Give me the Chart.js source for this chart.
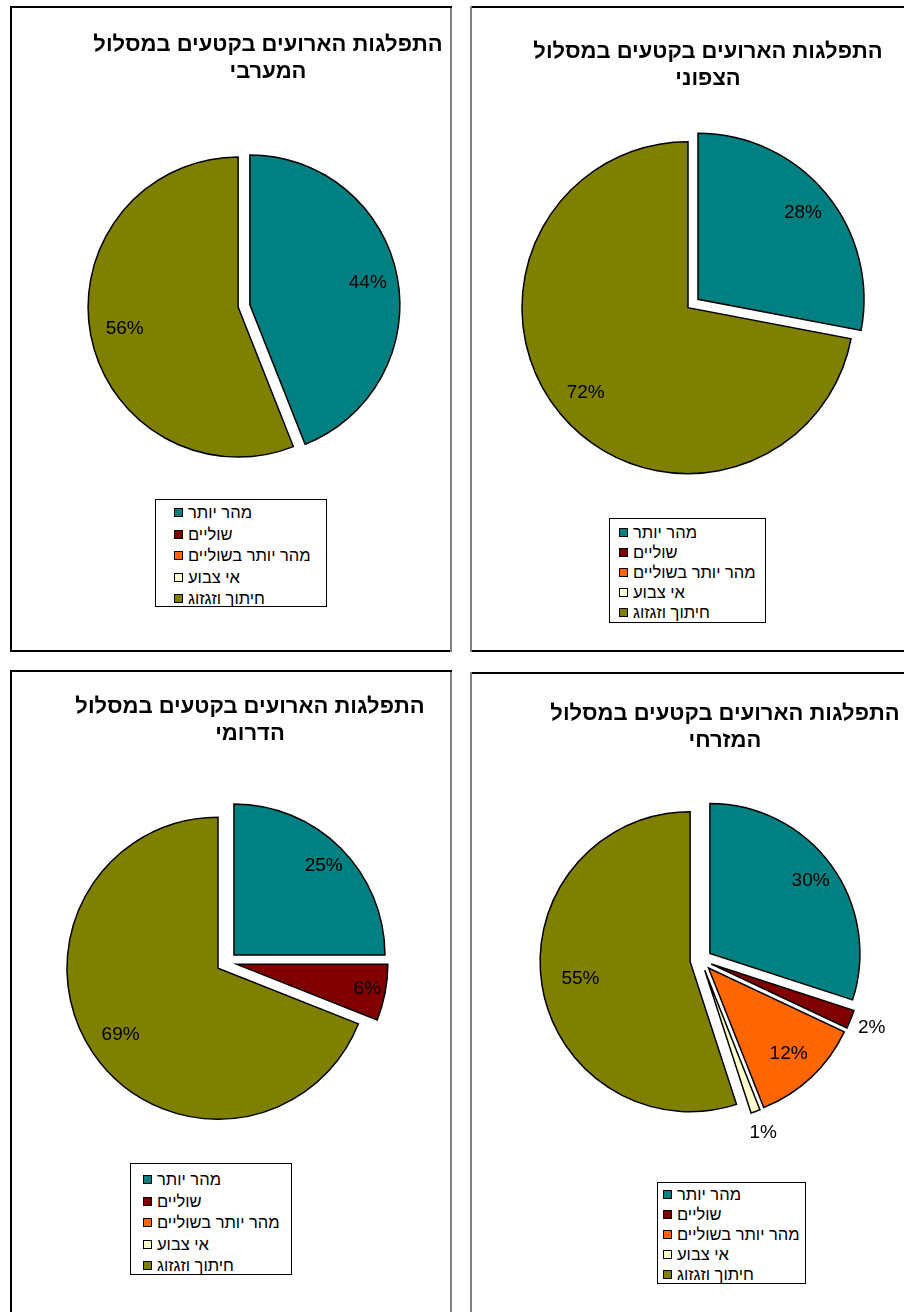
<!DOCTYPE html>
<html lang="he">
<head>
<meta charset="utf-8"/>
<title>התפלגות הארועים בקטעים</title>
<script src="https://cdn.jsdelivr.net/npm/chart.js"></script>
<style>
  body {
    margin: 0;
    width: 904px;
    height: 1312px;
    overflow: hidden;
    position: relative;
    background: #fff;
    font-family: "Liberation Sans", Arial, sans-serif;
    color: #000;
  }
  .panel {
    position: absolute;
  }
  .panel canvas {
    position: absolute;
    left: 0;
    top: 0;
  }
  .left-col {
    box-shadow: inset 2px 0 0 #000, inset 0 2px 0 #000, inset -2px 0 0 #808080, inset 0 -2px 0 #000;
  }
  .right-col {
    box-shadow: inset 2px 0 0 #808080, inset 0 2px 0 #000, inset 0 -2px 0 #000;
  }
  .title {
    position: absolute;
    width: 440px;
    margin-left: -220px;
    text-align: center;
    direction: rtl;
    font-weight: bold;
    font-size: 22px;
    line-height: 27px;
    white-space: nowrap;
  }
  .legend {
    position: absolute;
    box-sizing: border-box;
    border: 1px solid #000;
    background: #fff;
    font-size: 16.5px;
  }
  .legend .row {
    display: flex;
    align-items: center;
    white-space: nowrap;
  }
  .legend .sw {
    width: 9px;
    height: 9px;
    box-sizing: border-box;
    border: 1px solid #000;
    margin-right: 5px;
    flex: none;
  }
</style>
</head>
<body>

<div class="panel left-col" id="west"></div>
<div class="panel right-col" id="north"></div>
<div class="panel left-col" id="south"></div>
<div class="panel right-col" id="east"></div>

<script>
  // סוגי הארועים (אותו סדר בכל ארבעת המסלולים)
  const categories = ['מהר יותר', 'שוליים', 'מהר יותר בשוליים', 'אי צבוע', 'חיתוך וזגזוג'];
  const sliceColors = ['#008080', '#800000', '#FF6600', '#FFFFCC', '#808000'];

  // אחוזים לכל מסלול
  const westValues  = [44, 0, 0, 0, 56];
  const northValues = [28, 0, 0, 0, 72];
  const southValues = [25, 6, 0, 0, 69];
  const eastValues  = [30, 2, 12, 1, 55];

  const titleLine = 'התפלגות הארועים בקטעים במסלול';
  const routeNames = ['המערבי', 'הצפוני', 'הדרומי', 'המזרחי'];

  // פריסת כל לוח: מיקום, מרכז העוגה, רדיוס, הפרדת פרוסות, תווית ומקרא
  const panels = [
    { id: 'west',  values: westValues,  box: [10, 6, 442, 646],
      center: [234, 300], radius: 150, explode: 6,
      labelAt: [0.8, 0, 0, 0, 0.77],
      title: [258, 24],
      legend: { box: [145, 493, 172, 108], padTop: 2, padLeft: 18, rowH: 21.5 } },
    { id: 'north', values: northValues, box: [470, 6, 440, 646],
      center: [223, 297.5], radius: 166, explode: 6.5,
      labelAt: [0.82, 0, 0, 0, 0.8],
      title: [238, 31],
      legend: { box: [139, 512, 157, 105], padTop: 3.5, padLeft: 9, rowH: 20 } },
    { id: 'south', values: southValues, box: [10, 670, 442, 650],
      center: [216.6, 292.4], radius: 151, explode: 10.4,
      labelAt: [0.84, 0.88, 0, 0, 0.78],
      title: [240, 22],
      legend: { box: [120, 493, 162, 112], padTop: 5, padLeft: 12, rowH: 21.5 } },
    { id: 'east',  values: eastValues,  box: [470, 672, 440, 650],
      center: [231, 288], radius: 150, explode: 11,
      labelAt: [0.83, 1.15, 0.78, 1.15, 0.74],
      title: [255, 27],
      legend: { box: [187, 510, 149, 102], padTop: 1, padLeft: 5, rowH: 20 } }
  ];

  // כל פרוסה מוזזת החוצה לאורך זווית האמצע שלה
  const explodeSlices = {
    id: 'explodeSlices',
    beforeDatasetDraw(chart, args) {
      const ds = chart.data.datasets[args.index];
      const ctx = chart.ctx;
      args.meta.data.forEach((arc, i) => {
        if (!ds.data[i]) return;
        const mid = (arc.startAngle + arc.endAngle) / 2;
        ctx.save();
        ctx.translate(Math.cos(mid) * ds.explode, Math.sin(mid) * ds.explode);
        arc.draw(ctx);
        ctx.restore();
      });
      return false;
    }
  };

  // תוויות אחוזים על הפרוסות
  const sliceLabels = {
    id: 'sliceLabels',
    afterDatasetsDraw(chart) {
      const ds = chart.data.datasets[0];
      const meta = chart.getDatasetMeta(0);
      const ctx = chart.ctx;
      ctx.save();
      ctx.font = '19px "Liberation Sans", Arial, sans-serif';
      ctx.fillStyle = '#000';
      ctx.textAlign = 'center';
      ctx.textBaseline = 'middle';
      meta.data.forEach((arc, i) => {
        const v = ds.data[i];
        if (!v) return;
        const mid = (arc.startAngle + arc.endAngle) / 2;
        const d = ds.explode + ds.labelAt[i] * arc.outerRadius;
        ctx.fillText(v + '%', arc.x + Math.cos(mid) * d, arc.y + Math.sin(mid) * d);
      });
      ctx.restore();
    }
  };

  panels.forEach((p, n) => {
    const el = document.getElementById(p.id);
    const [left, top, w, h] = p.box;
    Object.assign(el.style, { left: left + 'px', top: top + 'px', width: w + 'px', height: h + 'px' });

    const canvas = document.createElement('canvas');
    canvas.width = w;
    canvas.height = h;
    el.appendChild(canvas);

    const title = document.createElement('div');
    title.className = 'title';
    title.style.left = p.title[0] + 'px';
    title.style.top = p.title[1] + 'px';
    title.innerHTML = titleLine + '<br>' + routeNames[n];
    el.appendChild(title);

    // אזור הציור ממורכז סביב מרכז העוגה
    const half = 60;
    const [cx, cy] = p.center;
    const chart = new Chart(canvas, {
      type: 'pie',
      data: {
        labels: categories,
        datasets: [{
          data: p.values,
          backgroundColor: sliceColors,
          borderColor: '#000',
          borderWidth: 1.5,
          borderJoinStyle: 'miter',
          explode: p.explode,
          labelAt: p.labelAt
        }]
      },
      options: {
        responsive: false,
        animation: false,
        devicePixelRatio: 1,
        radius: p.radius,
        layout: {
          padding: { left: cx - half, right: w - cx - half, top: cy - half, bottom: h - cy - half }
        },
        plugins: {
          legend: { display: false },
          tooltip: { enabled: false },
          title: { display: false }
        }
      },
      plugins: [explodeSlices, sliceLabels]
    });

    // מקרא עם מסגרת, נבנה מפריטי המקרא של הגרף
    const lg = document.createElement('div');
    lg.className = 'legend';
    const [lx, ly, lw, lh] = p.legend.box;
    Object.assign(lg.style, {
      left: lx + 'px', top: ly + 'px', width: lw + 'px', height: lh + 'px',
      paddingTop: p.legend.padTop + 'px', paddingLeft: p.legend.padLeft + 'px'
    });
    chart.options.plugins.legend.labels.generateLabels(chart).forEach(item => {
      const row = document.createElement('div');
      row.className = 'row';
      row.style.height = p.legend.rowH + 'px';
      const sw = document.createElement('span');
      sw.className = 'sw';
      sw.style.background = item.fillStyle;
      const txt = document.createElement('span');
      txt.textContent = item.text;
      row.appendChild(sw);
      row.appendChild(txt);
      lg.appendChild(row);
    });
    el.appendChild(lg);
  });
</script>
</body>
</html>
